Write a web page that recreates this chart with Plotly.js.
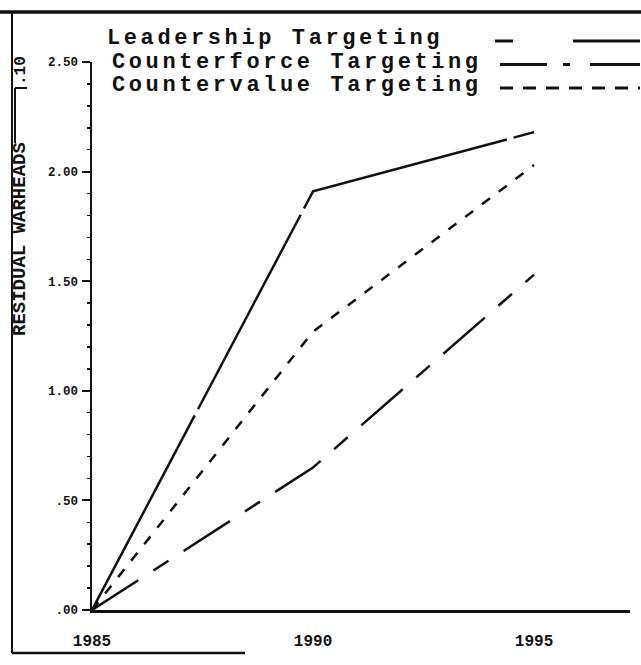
<!DOCTYPE html>
<html>
<head>
<meta charset="utf-8">
<script src="https://cdn.plot.ly/plotly-3.0.1.min.js"></script>
<style>html,body{margin:0;padding:0;background:#fff;}#chart{width:641px;height:665px;}</style>
</head>
<body>
<div id="chart"></div>
<script>
// ---- data ----
const years = [1985, 1990, 1995];
const leadership = [0, 1.91, 2.18];
const counterforce = [0, 0.65, 1.53];
const countervalue = [0, 1.27, 2.03];
const seriesNames = ['Leadership Targeting', 'Counterforce Targeting', 'Countervalue Targeting'];
const xTickVals = [1985, 1990, 1995];
const xTickText = ['1985', '1990', '1995'];
const yTickVals = [0, 0.5, 1, 1.5, 2, 2.5];
const yTickText = ['.00', '.50', '1.00', '1.50', '2.00', '2.50'];
const yTitle = 'RESIDUAL WARHEADS';
const yScaleNote = '.10';

// ---- layout helpers (pixel -> paper) ----
const W = 641, H = 665;
const M = {l: 92, r: 11, t: 62, b: 55};
const px = x => (x - M.l) / (W - M.l - M.r);
const py = y => (H - M.b - y) / (H - M.t - M.b);
const FONT = 'Liberation Mono, Courier New, monospace';
const INK = '#111';

const dashes = ['220px,7px', '55px,18px,18px,18px', '10px,11px'];
const seriesData = [leadership, counterforce, countervalue];

const traces = seriesData.map((vals, i) => ({
  x: years, y: vals, name: seriesNames[i], type: 'scatter', mode: 'lines',
  line: {color: INK, width: 2.5, dash: dashes[i]}, cliponaxis: false, showlegend: false
}));

function seg(x0, y0, x1, y1, w, dash) {
  return {type: 'line', xref: 'paper', yref: 'paper', x0: px(x0), x1: px(x1), y0: py(y0), y1: py(y1),
    line: {color: INK, width: w, dash: dash || 'solid'}};
}

const rowsY = [39, 62.5, 86];
const rowsX = [105, 110, 110];

const shapes = [
  seg(0, 12, 641, 12, 3.5),
  seg(12, 12, 12, 653, 2),
  seg(12, 653, 245, 653, 2.5),
  seg(15, 88, 15, 143, 2),
  seg(15, 88, 27, 88, 2),
  // legend samples
  seg(495, rowsY[0] + 2, 513, rowsY[0] + 2, 3),
  seg(573, rowsY[0] + 2, 640, rowsY[0] + 2, 3),
  seg(500, rowsY[1] + 2, 547, rowsY[1] + 2, 3),
  seg(563, rowsY[1] + 2, 570, rowsY[1] + 2, 3),
  seg(590, rowsY[1] + 2, 640, rowsY[1] + 2, 3),
  seg(500, rowsY[2] + 2, 640, rowsY[2] + 2, 3, '13px,10px')
];

const annotations = seriesNames.map((n, i) => ({
  text: n, xref: 'paper', yref: 'paper', x: px(rowsX[i]), y: py(rowsY[i]),
  xanchor: 'left', yanchor: 'middle', align: 'left', showarrow: false,
  font: {family: FONT, size: 22, color: INK, weight: 'bold'}
}));
annotations.push({
  text: yTitle, xref: 'paper', yref: 'paper', x: px(20), y: py(239), textangle: -90,
  xanchor: 'center', yanchor: 'middle', showarrow: false,
  font: {family: FONT, size: 19, color: INK, weight: 'bold'}
});
annotations.push({
  text: yScaleNote, xref: 'paper', yref: 'paper', x: px(21), y: py(71), textangle: -90,
  xanchor: 'center', yanchor: 'middle', showarrow: false,
  font: {family: FONT, size: 16, color: INK, weight: 'bold'}
});

const layout = {
  width: W, height: H, margin: M, paper_bgcolor: '#fff', plot_bgcolor: '#fff',
  showlegend: false,
  xaxis: {
    range: [1985, 1997.17], showline: true, linewidth: 3, linecolor: INK, showgrid: false, zeroline: false,
    ticks: '', tickvals: xTickVals, ticktext: xTickText, ticklabelstandoff: 14,
    tickfont: {family: FONT, size: 16, color: INK, weight: 'bold'}
  },
  yaxis: {
    range: [0, 2.5], showline: true, linewidth: 2.5, linecolor: INK, showgrid: false, zeroline: false,
    ticks: 'outside', ticklen: 8, tickwidth: 2, tickcolor: INK,
    tickvals: yTickVals, ticktext: yTickText, ticklabelstandoff: 1,
    minor: {dtick: 0.1, ticks: 'outside', ticklen: 3, tickwidth: 1.5, tickcolor: INK, showgrid: false},
    tickfont: {family: FONT, size: 12.5, color: INK, weight: 'bold'}
  },
  shapes: shapes,
  annotations: annotations
};

Plotly.newPlot('chart', traces, layout, {displayModeBar: false, staticPlot: true}).then(() => {
  // typewriter-style wide letter spacing for the legend texts
  document.querySelectorAll('.annotation-text').forEach(t => {
    if (seriesNames.includes(t.textContent)) t.style.letterSpacing = '3.6px';
  });
});
</script>
</body>
</html>
